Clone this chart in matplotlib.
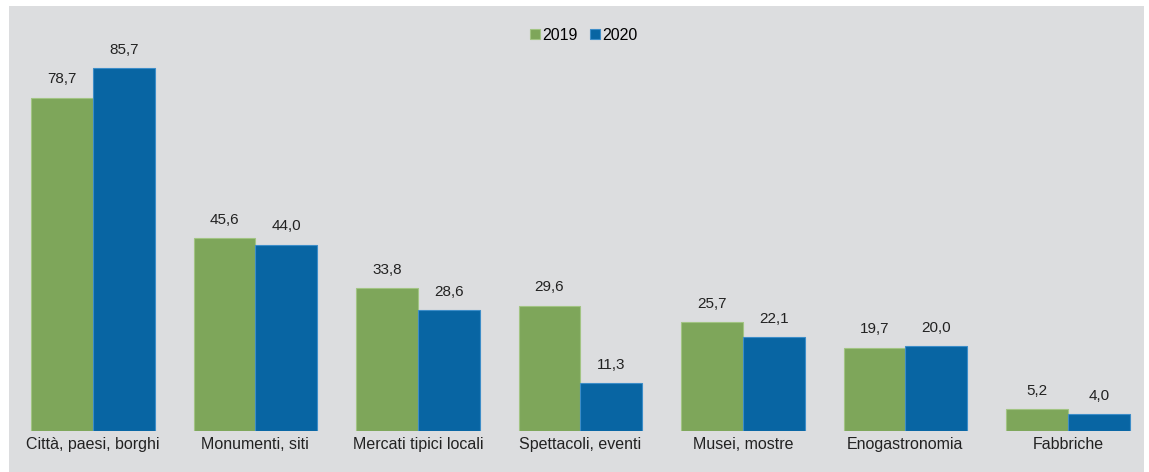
import numpy as np
import matplotlib.pyplot as plt
from matplotlib.patches import Rectangle

plt.rcParams['font.family'] = ['Liberation Sans', 'DejaVu Sans']

categories = ['Città, paesi, borghi', 'Monumenti, siti', 'Mercati tipici locali',
              'Spettacoli, eventi', 'Musei, mostre', 'Enogastronomia', 'Fabbriche']
v2019 = [78.7, 45.6, 33.8, 29.6, 25.7, 19.7, 5.2]
v2020 = [85.7, 44.0, 28.6, 11.3, 22.1, 20.0, 4.0]

green = '#7ea65a'
blue = '#0865a3'

W, H = 1149, 472
fig = plt.figure(figsize=(W / 100, H / 100), dpi=100)
fig.patch.set_facecolor('white')
# grey panel behind the chart
fig.patches.append(Rectangle((9 / W, 0), (1144 - 9) / W, (H - 6) / H,
                             transform=fig.transFigure, facecolor='#dcdddf',
                             edgecolor='none', zorder=-5))

ax = fig.add_axes([12 / W, (H - 431) / H, (1144 - 12) / W, (431 - 20) / H])
ax.set_zorder(2)
ax.patch.set_alpha(0)

x = np.arange(len(categories))
bw = 0.38
b1 = ax.bar(x - bw / 2, v2019, bw, color=green, edgecolor='#a2c483', linewidth=0.8, label='2019')
b2 = ax.bar(x + bw / 2, v2020, bw, color=blue, edgecolor='#3d8dc8', linewidth=0.8, label='2020')

for bars, vals in ((b1, v2019), (b2, v2020)):
    for r, v in zip(bars, vals):
        ax.annotate(f'{v:.1f}'.replace('.', ','), (r.get_x() + r.get_width() / 2, v),
                    xytext=(0, 8), textcoords='offset points', ha='center', va='bottom',
                    fontsize=11, color='#222222')

ax.set_xlim(-0.497, 6.468)
ax.set_ylim(0, 97.0)
ax.set_xticks(x)
ax.set_xticklabels(categories, fontsize=11.5, color='#222222')
ax.tick_params(axis='x', length=0, pad=4)
ax.set_yticks([])
for s in ax.spines.values():
    s.set_visible(False)

fig.legend(loc='center', bbox_to_anchor=(584 / W, 1 - 35 / H), ncol=2, frameon=False,
           fontsize=11.5, handlelength=0.6, handleheight=0.6, handletextpad=0.15,
           columnspacing=0.8)

fig.savefig('out.png', dpi=100)
